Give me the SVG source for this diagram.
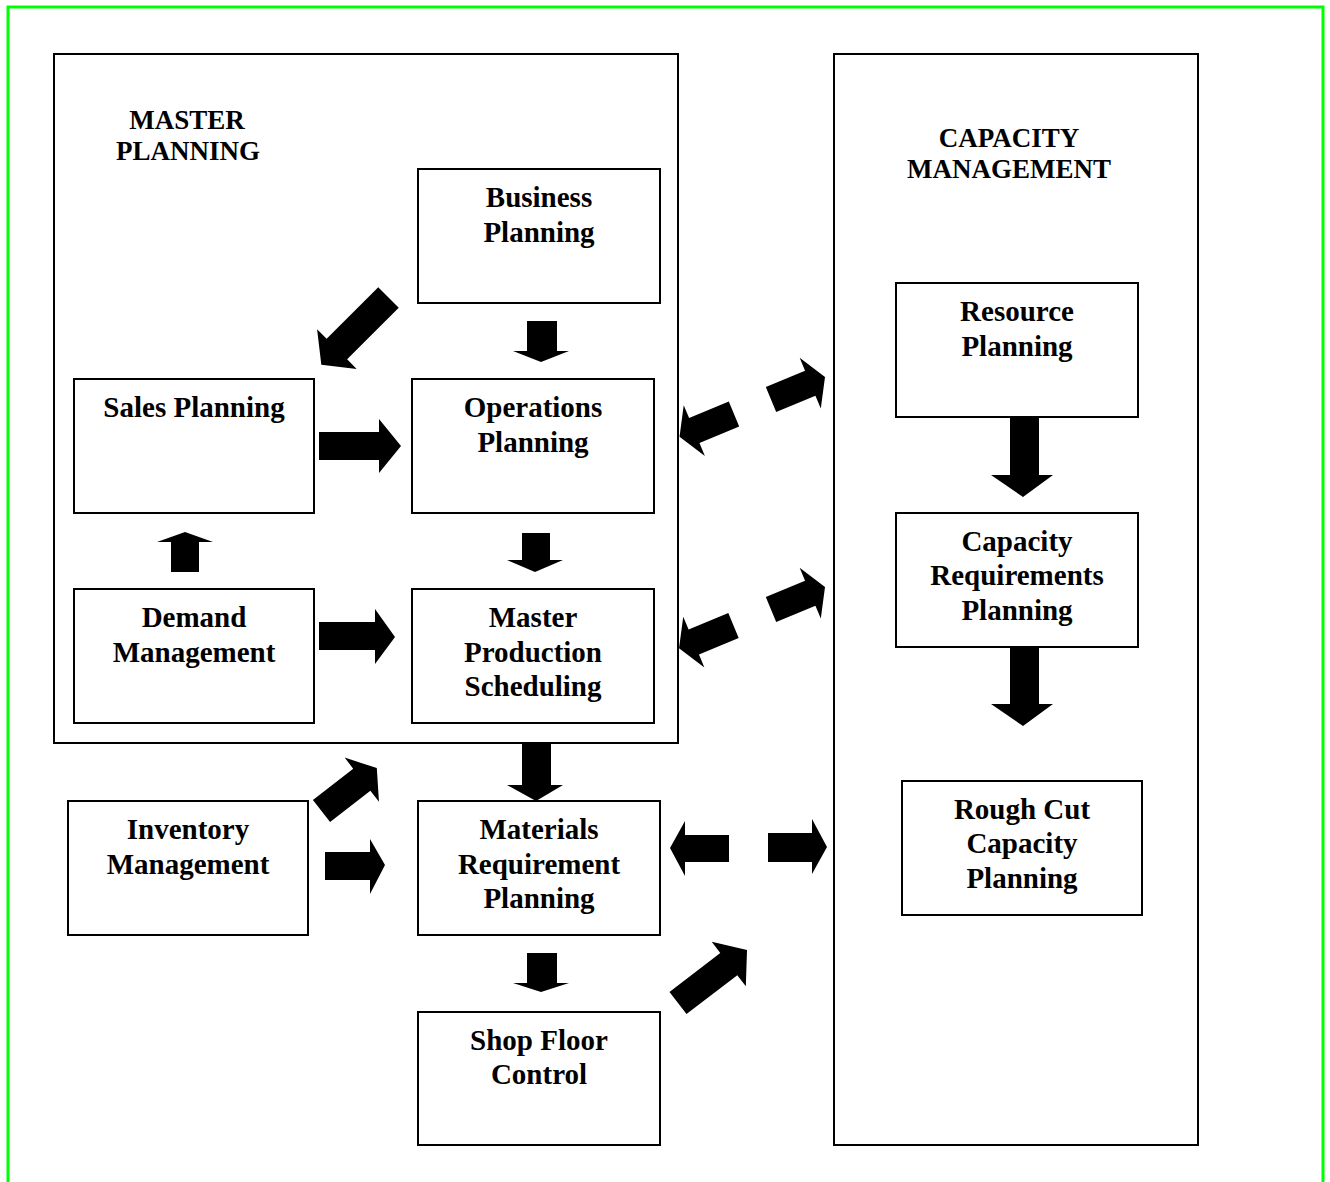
<svg xmlns="http://www.w3.org/2000/svg" width="1330" height="1182" viewBox="0 0 1330 1182">
<style>
.frame{fill:none;stroke:#00ff00;stroke-width:3}
.panel{fill:#fff;stroke:#000;stroke-width:2}
.box{fill:#fff;stroke:#000;stroke-width:2}
.arrow{fill:#000;stroke:none}
.t{font-family:"Liberation Serif","Times New Roman",serif;font-weight:bold;font-size:29px;text-anchor:middle;fill:#000}
.h{font-family:"Liberation Serif","Times New Roman",serif;font-weight:bold;font-size:27px;text-anchor:middle;fill:#000}
</style>
<rect width="1330" height="1182" fill="#fff"/>
<rect class="frame" x="8" y="7" width="1315" height="1185"/>

<g id="master-planning">
<rect class="panel" x="54" y="54" width="624" height="689"/>
<text class="h" x="187" y="129">MASTER</text>
<text class="h" x="188" y="160">PLANNING</text>
</g>
<g id="capacity-management">
<rect class="panel" x="834" y="54" width="364" height="1091"/>
<text class="h" x="1009" y="147">CAPACITY</text>
<text class="h" x="1009" y="178">MANAGEMENT</text>
</g>

<g id="business-planning">
<rect class="box" x="418" y="169" width="242" height="134"/>
<text class="t" x="539" y="207">Business</text>
<text class="t" x="539" y="241.5">Planning</text>
</g>
<g id="sales-planning">
<rect class="box" x="74" y="379" width="240" height="134"/>
<text class="t" x="194" y="417">Sales Planning</text>
</g>
<g id="operations-planning">
<rect class="box" x="412" y="379" width="242" height="134"/>
<text class="t" x="533" y="417">Operations</text>
<text class="t" x="533" y="451.5">Planning</text>
</g>
<g id="demand-management">
<rect class="box" x="74" y="589" width="240" height="134"/>
<text class="t" x="194" y="627">Demand</text>
<text class="t" x="194" y="661.5">Management</text>
</g>
<g id="master-production-scheduling">
<rect class="box" x="412" y="589" width="242" height="134"/>
<text class="t" x="533" y="627">Master</text>
<text class="t" x="533" y="661.5">Production</text>
<text class="t" x="533" y="696">Scheduling</text>
</g>
<g id="inventory-management">
<rect class="box" x="68" y="801" width="240" height="134"/>
<text class="t" x="188" y="839">Inventory</text>
<text class="t" x="188" y="873.5">Management</text>
</g>
<g id="materials-requirement-planning">
<rect class="box" x="418" y="801" width="242" height="134"/>
<text class="t" x="539" y="839">Materials</text>
<text class="t" x="539" y="873.5">Requirement</text>
<text class="t" x="539" y="908">Planning</text>
</g>
<g id="shop-floor-control">
<rect class="box" x="418" y="1012" width="242" height="133"/>
<text class="t" x="539" y="1049.5">Shop Floor</text>
<text class="t" x="539" y="1084">Control</text>
</g>
<g id="resource-planning">
<rect class="box" x="896" y="283" width="242" height="134"/>
<text class="t" x="1017" y="321">Resource</text>
<text class="t" x="1017" y="355.5">Planning</text>
</g>
<g id="capacity-requirements-planning">
<rect class="box" x="896" y="513" width="242" height="134"/>
<text class="t" x="1017" y="550.5">Capacity</text>
<text class="t" x="1017" y="585">Requirements</text>
<text class="t" x="1017" y="619.5">Planning</text>
</g>
<g id="rough-cut-capacity-planning">
<rect class="box" x="902" y="781" width="240" height="134"/>
<text class="t" x="1022" y="818.5">Rough Cut</text>
<text class="t" x="1022" y="853">Capacity</text>
<text class="t" x="1022" y="887.5">Planning</text>
</g>

<g id="connectors">
<polygon class="arrow" points="527,321 557,321 557,351 569,351 541,362 513,351 527,351"/>
<polygon class="arrow" points="522,533 550,533 550,560 563,560 535,572 507,560 522,560"/>
<polygon class="arrow" points="522,743 551,743 551,785 563,785 536,801 507,785 522,785"/>
<polygon class="arrow" points="527,953 557,953 557,983 569,983 541,992 513,983 527,983"/>
<polygon class="arrow" points="171,572 199,572 199,542 213,542 185,532 157,542 171,542"/>
<polygon class="arrow" points="319,432 379,432 379,419 401,446 379,473 379,460 319,460"/>
<polygon class="arrow" points="319,622 375,622 375,609 395,637 375,664 375,650 319,650"/>
<polygon class="arrow" points="325,852 370,852 370,839 385,865 370,894 370,880 325,880"/>
<polygon class="arrow" points="729,835 685,835 685,821 670,848 685,876 685,862 729,862"/>
<polygon class="arrow" points="768,833 812,833 812,819 827,847 812,874 812,862 768,862"/>
<polygon class="arrow" points="1010,417 1039,417 1039,475 1053,475 1023,497 991,475 1010,475"/>
<polygon class="arrow" points="1010,647 1039,647 1039,704 1053,704 1023,726 991,704 1010,704"/>
<polygon class="arrow" transform="translate(388.5,297.5) rotate(135)" points="0,-14.5 73,-14.5 73,-28 95,0 73,28 73,14.5 0,14.5"/>
<polygon class="arrow" transform="translate(771,399.5) rotate(-22.6)" points="0,-13.5 42.5,-13.5 42.5,-27.5 58.5,0 42.5,27.5 42.5,13.5 0,13.5"/>
<polygon class="arrow" transform="translate(734,414) rotate(157.4)" points="0,-13.5 43,-13.5 43,-27.5 59,0 43,27.5 43,13.5 0,13.5"/>
<polygon class="arrow" transform="translate(771,609.5) rotate(-22.6)" points="0,-13.5 42.5,-13.5 42.5,-27.5 58.5,0 42.5,27.5 42.5,13.5 0,13.5"/>
<polygon class="arrow" transform="translate(733.5,625.5) rotate(157.4)" points="0,-13.5 43,-13.5 43,-27.5 59,0 43,27.5 43,13.5 0,13.5"/>
<polygon class="arrow" transform="translate(321.5,811) rotate(-37.8)" points="0,-14 51,-14 51,-28 70,0 51,28 51,14 0,14"/>
<polygon class="arrow" transform="translate(678,1003) rotate(-37.5)" points="0,-14 64,-14 64,-28 87,0 64,28 64,14 0,14"/>
</g>
</svg>
